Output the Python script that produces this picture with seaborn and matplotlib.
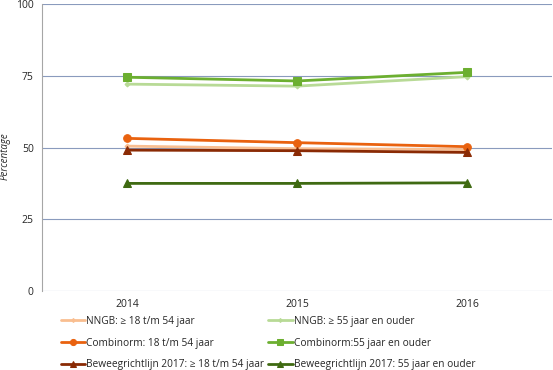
import numpy as np
import pandas as pd
import matplotlib
import matplotlib.pyplot as plt
import seaborn as sns

matplotlib.use("Agg")

# Data
years = ["2014", "2015", "2016"]
nngb_18_54 = [50.5, 49.6, 49.3]
combi_18_54 = [53.2, 51.7, 50.3]
bewg_18_54 = [49.1, 48.9, 48.3]
nngb_55 = [72.1, 71.4, 74.7]
combi_55 = [74.5, 73.2, 76.2]
bewg_55 = [37.5, 37.5, 37.7]

labels = ["NNGB: \u2265 18 t/m 54 jaar", "Combinorm: 18 t/m 54 jaar",
          "Beweegrichtlijn 2017: \u2265 18 t/m 54 jaar",
          "NNGB: \u2265 55 jaar en ouder", "Combinorm:55 jaar en ouder",
          "Beweegrichtlijn 2017: 55 jaar en ouder"]
series = [nngb_18_54, combi_18_54, bewg_18_54, nngb_55, combi_55, bewg_55]

# Colors and style
colors = ["#F9BE90", "#E9620F", "#8A2A04", "#B8DA96", "#6CAF30", "#3F6A12"]
markers = ["D", "o", "^", "D", "s", "^"]
msizes = [2.5, 5.5, 5.5, 2.5, 5.5, 5.5]
draw_order = [0, 3, 4, 1, 2, 5]

sns.set_style("white")
plt.rcParams['font.family'] = ['Open Sans', 'DejaVu Sans']

fig, ax = plt.subplots(figsize=(5.53, 3.7), dpi=100)
fig.subplots_adjust(left=0.076, right=0.998, top=0.989, bottom=0.2135)

x = np.arange(len(years))
handles = {}
for i in draw_order:
    sns.lineplot(x=x, y=series[i], ax=ax, color=colors[i], marker=markers[i],
                 markersize=msizes[i], markeredgecolor=colors[i], linewidth=2,
                 label=labels[i], legend=False)
    handles[i] = ax.lines[-1]

ax.set_xlim(-0.5, 2.5)
ax.set_ylim(0, 100)
ax.set_yticks([0, 25, 50, 75, 100])
ax.set_xticks(x)
ax.set_xticklabels(years)
ax.yaxis.grid(True, color="#8A9BBD", linewidth=0.8)
ax.set_axisbelow(True)
for s in ["top", "right", "bottom"]:
    ax.spines[s].set_visible(False)
ax.spines["left"].set_color("#A6A6A6")
ax.spines["left"].set_linewidth(0.8)
ax.tick_params(axis="both", labelsize=7.5, length=0, pad=6)
ax.set_ylabel("Percentage", fontsize=7, fontstyle="italic")
ax.yaxis.set_label_coords(-0.062, 0.47)

fig.legend([handles[i] for i in range(6)], labels, loc="upper left",
           bbox_to_anchor=(0.11, 0.146), ncol=2, frameon=False, fontsize=7.3,
           handlelength=2.4, handletextpad=0.1, columnspacing=0.4,
           labelspacing=1.05, borderaxespad=0, borderpad=0, markerscale=0.8)

plt.savefig("out.png", dpi=100)
